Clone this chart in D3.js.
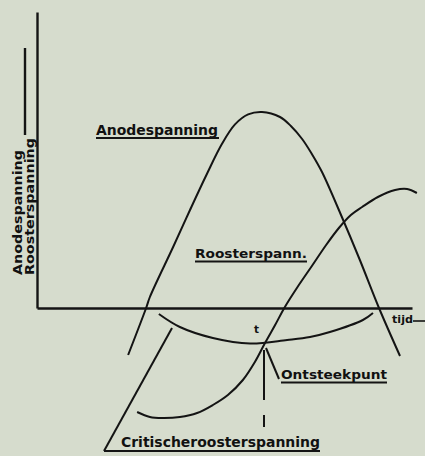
<!DOCTYPE html>
<html>
<head>
<meta charset="utf-8">
<script src="https://cdn.jsdelivr.net/npm/d3@7/dist/d3.min.js"></script>
<style>
html,body{margin:0;padding:0;background:#d6dccd;}
svg{display:block;}
text{font-family:"DejaVu Sans",sans-serif;font-weight:bold;fill:#111;}
</style>
</head>
<body>
<svg id="c" width="425" height="456"></svg>
<script>
// ---- data (time t, voltage v) ----
const anodeT = [2.43, 2.91, 3.01, 3.63, 4.08, 4.53, 4.93, 5.28, 5.63, 6.00, 6.48, 6.77, 7.07, 7.33, 7.60, 8.13, 8.61, 9.12, 9.68];
const anodeV = [-2.35, 0, 0.55, 3.05, 4.9, 6.7, 8.2, 9.18, 9.68, 9.8, 9.55, 9.1, 8.45, 7.7, 6.8, 4.55, 2.4, 0, -2.4];
const roosterT = [2.67, 3.01, 3.36, 3.81, 4.27, 4.69, 5.09, 5.49, 5.81, 6.08, 6.35, 6.61, 6.93, 7.33, 7.71, 8.05, 8.37, 8.67, 9.09, 9.55, 9.87, 10.13];
const roosterV = [-5.2, -5.45, -5.5, -5.45, -5.25, -4.85, -4.35, -3.6, -2.7, -1.75, -0.85, 0.05, 1.0, 2.1, 3.15, 4.0, 4.65, 5.05, 5.55, 5.9, 5.95, 5.75];
const critT = [3.25, 3.81, 4.69, 5.68, 6.67, 7.28, 7.81, 8.69, 8.96];
const critV = [-0.3, -0.95, -1.5, -1.78, -1.6, -1.45, -1.2, -0.6, -0.25];
const ignitionT = 6.08;           // Ontsteekpunt
const yLabels = ["Anodespanning", "Roosterspanning"];
const curveLabels = ["Anodespanning", "Roosterspann.", "Ontsteekpunt", "Critischeroosterspanning"];
const xLabel = "tijd";
const pointLabel = "t";

const svg = d3.select("#c");
const x = d3.scaleLinear().domain([0, 10]).range([37, 412]);
const y = d3.scaleLinear().domain([-7, 14.8]).range([448, 12]);
const ink = "#141414";

// axes
const xAxis = d3.axisBottom(x).tickValues([]).tickSizeOuter(0);
const gx = svg.append("g").attr("transform", `translate(0,${y(0)})`).call(xAxis);
gx.select(".domain").attr("stroke", ink).attr("stroke-width", 2.6);
const yAx = y.copy().domain([0, 14.8]).range([y(0), y(14.8)]);
const gy = svg.append("g").attr("transform", `translate(${x(0)},0)`).call(d3.axisLeft(yAx).tickValues([]).tickSizeOuter(0));
gy.select(".domain").attr("stroke", ink).attr("stroke-width", 2.4);
// short secondary axis bar (Roosterspanning)
svg.append("line").attr("x1", x(-0.32)).attr("x2", x(-0.32)).attr("y1", y(13.0)).attr("y2", y(8.65))
  .attr("stroke", ink).attr("stroke-width", 2.4);

// curves
const line = d3.line().x(d => x(d[0])).y(d => y(d[1])).curve(d3.curveCatmullRom.alpha(0.5));
function draw(T, V) {
  svg.append("path").datum(T.map((t, i) => [t, V[i]]))
    .attr("d", line).attr("fill", "none").attr("stroke", ink).attr("stroke-width", 2);
}
draw(anodeT, anodeV);
draw(roosterT, roosterV);
draw(critT, critV);

// dashed vertical at ignition point
svg.append("line").attr("x1", x(ignitionT) - 1).attr("x2", x(ignitionT) - 1)
  .attr("y1", y(-2.1)).attr("y2", y(-5.95))
  .attr("stroke", ink).attr("stroke-width", 2).attr("stroke-dasharray", "50,15,12,100");

// labels
function label(txt, px, py, w, fs) {
  svg.append("text").attr("x", px).attr("y", py).attr("font-size", fs)
    .attr("textLength", w).attr("lengthAdjust", "spacingAndGlyphs").text(txt);
}
function underline(x1, x2, py) {
  svg.append("line").attr("x1", x1).attr("x2", x2).attr("y1", py).attr("y2", py)
    .attr("stroke", ink).attr("stroke-width", 2);
}
label(curveLabels[0], 96, 135, 122, 14); underline(96, 219, 138);
label(curveLabels[1], 195, 258, 112, 13); underline(195, 307, 261.5);
label(curveLabels[2], 281, 379, 106, 13); underline(281, 387, 382.5);
label(curveLabels[3], 121, 447, 199, 14); underline(104, 320, 451);
// leaders
svg.append("line").attr("x1", 104).attr("y1", 451).attr("x2", x(3.6)).attr("y2", y(-1.0))
  .attr("stroke", ink).attr("stroke-width", 2);
svg.append("line").attr("x1", x(ignitionT) + 1).attr("y1", y(-2.0)).attr("x2", 279).attr("y2", 379)
  .attr("stroke", ink).attr("stroke-width", 2);
// tijd
label(xLabel, 392, 323, 21, 11);
svg.append("line").attr("x1", 413).attr("x2", 425).attr("y1", 321).attr("y2", 321)
  .attr("stroke", ink).attr("stroke-width", 1.6);
// point label
label(pointLabel, 254, 333, 5, 11);

// y labels (rotated)
svg.append("text").attr("transform", "translate(21.5,275) rotate(-90)").attr("font-size", 12)
  .attr("textLength", 125).attr("lengthAdjust", "spacingAndGlyphs").text(yLabels[0]);
svg.append("text").attr("transform", "translate(33.5,275) rotate(-90)").attr("font-size", 12)
  .attr("textLength", 137).attr("lengthAdjust", "spacingAndGlyphs").text(yLabels[1]);
</script>
</body>
</html>
